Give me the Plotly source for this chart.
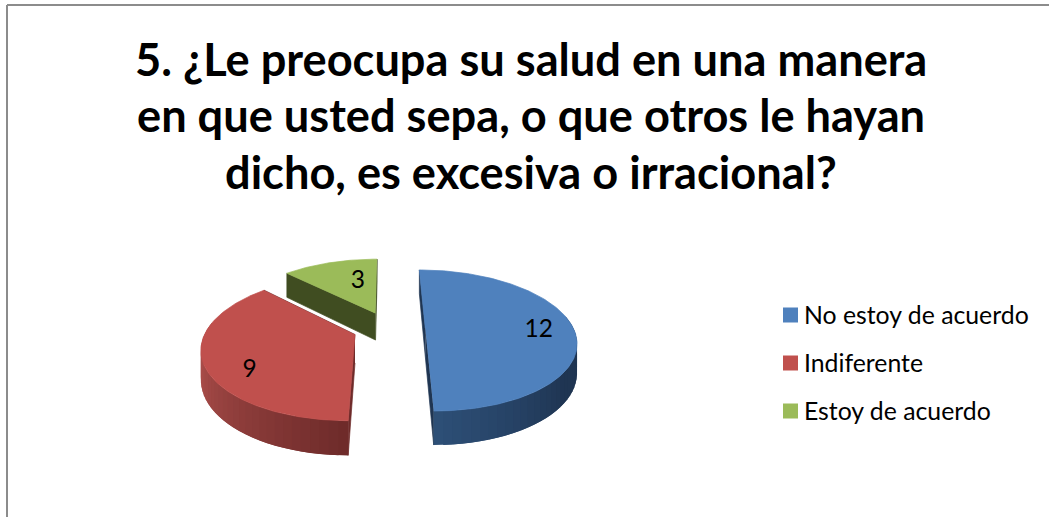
import math
import plotly.graph_objects as go

TITLE_LINES = ["5. ¿Le preocupa su salud en una manera",
               "en que usted sepa, o que otros le hayan",
               "dicho, es excesiva o irracional?"]
CATEGORIES = ["No estoy de acuerdo", "Indiferente", "Estoy de acuerdo"]
VALUES = [12, 9, 3]
TOP_COLORS = ["#4F81BD", "#C0504D", "#9BBB59"]
WALL_COLORS = ["#1F3552", "#6E2B2A", "#404D21"]
RIM_A = [(31, 53, 82), (110, 43, 42), (64, 77, 33)]
RIM_B = [(46, 80, 120), (168, 76, 73), (64, 77, 33)]
LABEL_POLAR = [(0.76, 93), (0.78, 233), (0.55, 345)]

# projection constants (pixel space of the 1049x517 page)
VX, VY, L, K = 386.0, -58.0, 386.0, 0.177
A, CX_OFF, PULL, H = 148.0, 3.0, 0.245, 28.0


def project(X, Y, z=0.0):
    w = 1 + K * Y
    return VX + (A * X + CX_OFF) / w, VY + (L + H * z) / w


total = sum(VALUES)
starts, acc = [], 0.0
for v in VALUES:
    starts.append(acc)
    acc += v / total * 360


def point(i, r, t, z=0.0):
    mid = math.radians(starts[i] + VALUES[i] / total * 180)
    px, py = PULL * math.sin(mid), PULL * math.cos(mid)
    a = math.radians(t)
    return project(px + r * math.sin(a), py + r * math.cos(a), z)


fig = go.Figure()


def poly(points, color, lw=0.7):
    fig.add_trace(go.Scatter(
        x=[p[0] for p in points], y=[p[1] for p in points], mode="lines",
        fill="toself", fillcolor=color, line=dict(color=color, width=lw),
        hoverinfo="skip", showlegend=False))


for i in [2, 0, 1]:
    t0 = starts[i]
    t1 = t0 + VALUES[i] / total * 360
    for t in (t0, t1):
        poly([point(i, 0, t), point(i, 1, t), point(i, 1, t, 1), point(i, 0, t, 1)], WALL_COLORS[i])
    lo, hi = max(t0, 80), min(t1, 280)
    if hi > lo:
        n = max(2, int((hi - lo) / 3))
        order = range(n) if i == 1 else range(n - 1, -1, -1)
        for s in order:
            ta = lo + (hi - lo) * s / n
            tb = lo + (hi - lo) * (s + 1) / n
            tm = (ta + tb) / 2
            f = max(0.0, (tm - 125) / 55) if i == 0 else min(1.0, (tm - 180) / 70)
            c = [RIM_A[i][k] + (RIM_B[i][k] - RIM_A[i][k]) * f for k in range(3)]
            col = "rgb(%d,%d,%d)" % tuple(c)
            if i == 1:
                tb = min(hi, tb + (hi - lo) / n)
            else:
                ta = max(lo, ta - (hi - lo) / n)
            poly([point(i, 1, ta), point(i, 1, tb), point(i, 1, tb, 1), point(i, 1, ta, 1)], col, 0)
    n = int(t1 - t0)
    pts = [point(i, 0, t0)] + [point(i, 1, t0 + (t1 - t0) * s / n) for s in range(n + 1)]
    poly(pts, TOP_COLORS[i])

lab = [point(i, r, t) for i, (r, t) in enumerate(LABEL_POLAR)]
fig.add_trace(go.Scatter(x=[p[0] for p in lab], y=[p[1] for p in lab], mode="text",
                         text=[str(v) for v in VALUES], textposition="middle center",
                         textfont=dict(family="Lato", size=24.5, color="#000000"),
                         hoverinfo="skip", showlegend=False))

# legend rows
LEGEND_ROW_Y = [315, 363, 411]
for i, name in enumerate(CATEGORIES):
    fig.add_trace(go.Scatter(x=[790.5], y=[LEGEND_ROW_Y[i]], mode="markers", name=name,
                             marker=dict(symbol="square", size=15, color=TOP_COLORS[i]),
                             hoverinfo="name", showlegend=False))
    fig.add_annotation(text=name, x=805, y=LEGEND_ROW_Y[i] - 1, xref="x", yref="y", showarrow=False,
                       xanchor="left", yanchor="middle", borderpad=0, borderwidth=0,
                       xshift=-1,
                       font=dict(family="Lato", size=24.8, color="#000000"))

for line, y in zip(TITLE_LINES, [58, 114, 171]):
    fig.add_annotation(text="<b>%s</b>" % line, x=531, y=y, xref="x", yref="y",
                       showarrow=False, xanchor="center", yanchor="middle",
                       font=dict(family="Lato", size=45.2, color="#000000"))

fig.update_layout(
    width=1049, height=517, margin=dict(l=0, r=0, t=0, b=0),
    paper_bgcolor="#FFFFFF", plot_bgcolor="#FFFFFF", showlegend=False,
    xaxis=dict(range=[0, 1049], visible=False, fixedrange=True),
    yaxis=dict(range=[517, 0], visible=False, fixedrange=True),
    shapes=[
        dict(type="line", xref="x", yref="y", x0=7, x1=7, y0=5, y1=517, line=dict(color="#8C8C8C", width=2)),
        dict(type="line", xref="x", yref="y", x0=7, x1=1049, y0=5, y1=5, line=dict(color="#8C8C8C", width=2)),
    ],
)
fig.write_html("out.html", config={"displayModeBar": False},
               post_script="document.body.style.margin='0';")
